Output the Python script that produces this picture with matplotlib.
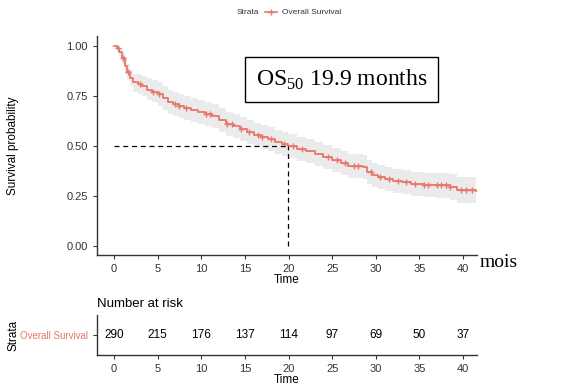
import matplotlib
matplotlib.use("Agg")
import matplotlib.pyplot as plt
import numpy as np

plt.rcParams['font.family'] = ['Liberation Sans', 'DejaVu Sans']
plt.rcParams['mathtext.fontset'] = 'custom'
plt.rcParams['mathtext.rm'] = 'Liberation Serif'

# Kaplan-Meier curve
times = [0, 0.3, 0.6, 0.9, 1.2, 1.5, 1.8, 2.2, 2.7, 3.2, 3.8, 4.4, 5.0, 5.6, 6.2, 6.8,
         7.4, 8.0, 8.8, 9.6, 10.4, 11.2, 12.0, 12.8, 13.6, 14.4, 15.2, 16.0, 16.8, 17.6,
         18.4, 19.2, 19.9, 21.0, 22.0, 23.0, 24.0, 25.0, 26.0, 26.8, 27.5, 28.5, 29.0,
         29.6, 30.3, 31.0, 32.0, 33.0, 34.0, 35.5, 37.0, 38.5, 39.3, 41.5]
surv = [1.0, 0.99, 0.97, 0.94, 0.90, 0.87, 0.84, 0.82, 0.81, 0.80, 0.78, 0.77, 0.76, 0.74,
        0.72, 0.71, 0.70, 0.69, 0.68, 0.67, 0.66, 0.65, 0.63, 0.61, 0.60, 0.585, 0.57, 0.555,
        0.545, 0.535, 0.52, 0.51, 0.50, 0.485, 0.475, 0.46, 0.445, 0.43, 0.415, 0.40, 0.40,
        0.395, 0.37, 0.355, 0.345, 0.335, 0.325, 0.32, 0.31, 0.305, 0.305, 0.295, 0.28, 0.275]
lower = [1.0, 0.98, 0.95, 0.91, 0.86, 0.83, 0.80, 0.77, 0.76, 0.75, 0.73, 0.72, 0.70, 0.68,
         0.66, 0.65, 0.64, 0.63, 0.62, 0.61, 0.60, 0.59, 0.57, 0.55, 0.54, 0.525, 0.51, 0.495,
         0.485, 0.475, 0.46, 0.45, 0.44, 0.425, 0.415, 0.40, 0.385, 0.37, 0.355, 0.34, 0.34,
         0.335, 0.31, 0.295, 0.285, 0.275, 0.265, 0.26, 0.25, 0.245, 0.24, 0.23, 0.215, 0.21]
upper = [1.0, 1.0, 0.99, 0.97, 0.94, 0.91, 0.88, 0.86, 0.86, 0.85, 0.84, 0.83, 0.82, 0.80,
         0.78, 0.77, 0.76, 0.75, 0.74, 0.73, 0.72, 0.71, 0.69, 0.67, 0.66, 0.645, 0.63, 0.615,
         0.605, 0.595, 0.58, 0.57, 0.56, 0.545, 0.535, 0.52, 0.505, 0.49, 0.475, 0.46, 0.46,
         0.455, 0.43, 0.415, 0.405, 0.395, 0.385, 0.38, 0.37, 0.365, 0.365, 0.36, 0.345, 0.345]
censor_times = [0.5, 1.0, 1.6, 3.0, 4.5, 5.2, 7.0, 7.5, 8.2, 10.5, 11.0, 13.0, 13.5, 14.5,
                15.5, 16.5, 17.0, 18.0, 19.5, 20.5, 21.5, 24.5, 25.5, 26.5, 27.5, 28.0, 29.5,
                30.5, 31.5, 32.5, 33.5, 34.5, 35.5, 36.0, 37.0, 37.5, 38.0, 38.5, 39.8, 40.3, 41.0]

# number at risk table
risk_times = [0, 5, 10, 15, 20, 25, 30, 35, 40]
at_risk = [290, 215, 176, 137, 114, 97, 69, 50, 37]

median_os = 19.9
red = '#E8776C'
dark = '#333333'

fig = plt.figure(figsize=(5.81, 3.90), dpi=100)
ax = fig.add_axes([0.167, 0.346, 0.654, 0.562])

ax.fill_between(times, lower, upper, step='post', color='#EBEBEB', lw=0)
ax.step(times, surv, where='post', color=red, lw=1.3)
idx = np.searchsorted(times, censor_times, side='right') - 1
ax.plot(censor_times, np.array(surv)[idx], ls='none', marker='+', color=red,
        ms=4.5, mew=1.0)

ax.plot([0, median_os], [0.5, 0.5], ls=(0, (4, 3)), color='black', lw=0.9)
ax.plot([median_os, median_os], [0, 0.5], ls=(0, (4, 3)), color='black', lw=0.9)

ax.set_xlim(-1.95, 41.6)
ax.set_ylim(-0.047, 1.05)
ax.set_xticks(risk_times)
ax.set_yticks([0, 0.25, 0.5, 0.75, 1.0])
ax.set_yticklabels(['0.00', '0.25', '0.50', '0.75', '1.00'])
for s in ['top', 'right']:
    ax.spines[s].set_visible(False)
for s in ['left', 'bottom']:
    ax.spines[s].set_color(dark)
    ax.spines[s].set_linewidth(1.0)
ax.tick_params(labelsize=8, colors=dark, length=3, width=0.8)
ax.set_xlabel('Time', fontsize=8.5, color='black', labelpad=0)
ax.set_ylabel('Survival probability', fontsize=8.5, color='black')
ax.yaxis.set_label_coords(-0.205, 0.5)

ax.text(0.418, 0.80, r'$\mathrm{OS}_{50}$ 19.9 months', transform=ax.transAxes,
        family='Liberation Serif', fontsize=17, va='center', ha='left',
        bbox=dict(boxstyle='square,pad=0.45', fc='white', ec='black', lw=1.0))
fig.text(0.826, 0.328, 'mois', family='Liberation Serif', fontsize=14,
         ha='left', va='center')

# legend on top
fig.text(0.408, 0.968, 'Strata', fontsize=6, color=dark, ha='left', va='center')
fig.lines.append(plt.Line2D([0.456, 0.477], [0.968, 0.968], color=red, lw=1.2,
                            transform=fig.transFigure))
fig.lines.append(plt.Line2D([0.4665], [0.968], color=red, marker='+', ms=5,
                            transform=fig.transFigure))
fig.text(0.486, 0.968, 'Overall Survival', fontsize=6, color=dark, ha='left', va='center')

# risk table
rax = fig.add_axes([0.167, 0.090, 0.654, 0.102])
for t, n in zip(risk_times, at_risk):
    rax.text(t, 0.5, str(n), ha='center', va='center', fontsize=8.5, color='black')
rax.set_xlim(-1.95, 41.6)
rax.set_ylim(0, 1)
rax.set_xticks(risk_times)
rax.set_yticks([0.5])
rax.set_yticklabels(['Overall Survival'])
for s in ['top', 'right']:
    rax.spines[s].set_visible(False)
for s in ['left', 'bottom']:
    rax.spines[s].set_color(dark)
    rax.spines[s].set_linewidth(1.0)
rax.tick_params(labelsize=8, colors=dark, length=3, width=0.8)
rax.tick_params(axis='y', labelsize=7)
rax.get_yticklabels()[0].set_color(red)
rax.set_xlabel('Time', fontsize=8.5, color='black', labelpad=0)
rax.set_ylabel('Strata', fontsize=8.5, color='black')
rax.yaxis.set_label_coords(-0.205, 0.5)
rax.set_title('Number at risk', fontsize=9.5, loc='left', pad=6)

fig.savefig('out.png', dpi=100)
